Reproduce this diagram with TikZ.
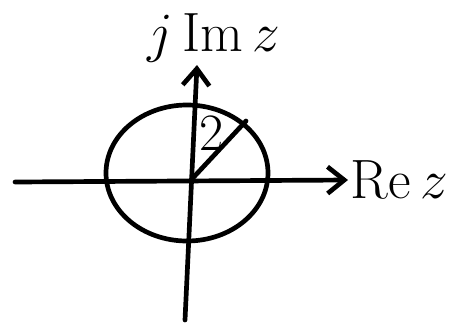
\documentclass[tikz,border=0pt]{standalone}
\usetikzlibrary{arrows.meta}
\begin{document}
\begin{tikzpicture}[
  x=0.03cm, y=-0.03cm,
  txt/.style  = {font=\Huge, scale=1.9, inner sep=1pt},
  lbl/.style  = {font=\Huge, scale=1.8, inner sep=1pt},
  pen/.style  = {line width=4pt, line cap=round, line join=round},
  axis/.style = {pen, -{Straight Barb[length=5mm, width=8mm, line width=4pt]}},
]
\useasboundingbox (0,0) rectangle (472,323);

% --- axes ----------------------------------------------------------------
\coordinate (o)  at (191,180);
\coordinate (xl) at (15,182);
\coordinate (yb) at (185,320);
\coordinate (yt) at (197,65);
\node[txt, anchor=west] (re) at (348,180) {$\mathrm{Re}\,z$};
\node[txt] (im) at (214,38) {$j\,\mathrm{Im}\,z$};
\draw[axis] (xl) -- (re.west);
\draw[axis] (yb) -- (yt);

% --- circle and radius ---------------------------------------------------
\coordinate (c) at (187,173);
\draw[pen] (c) ellipse [x radius=81, y radius=68];
\draw[pen] (o) -- (246,121) coordinate (p);
\node[lbl] (r) at (212,134) {$2$};

\end{tikzpicture}
\end{document}
